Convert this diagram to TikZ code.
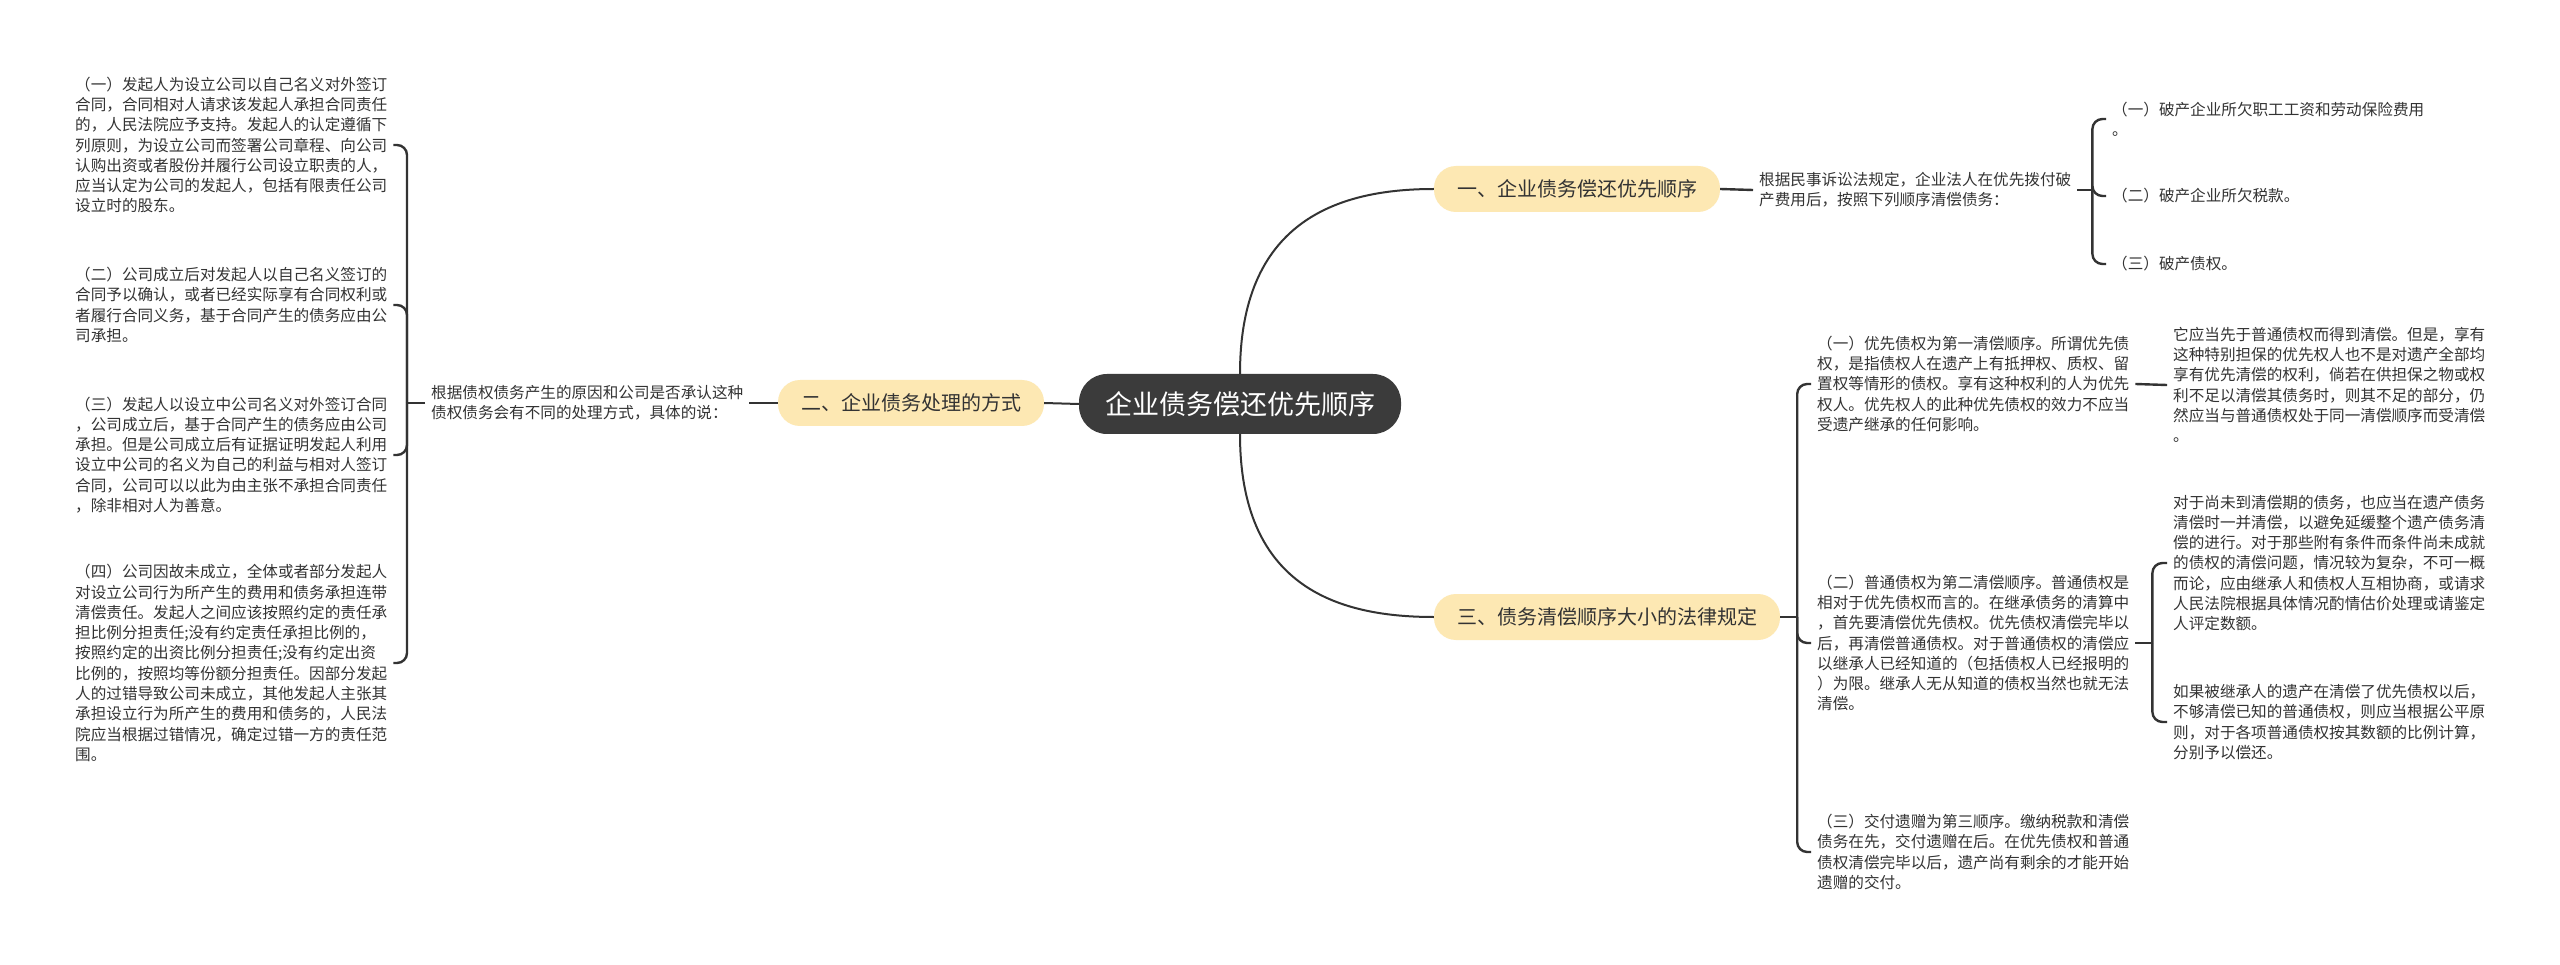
\documentclass[tikz,border=0pt]{standalone}
\usepackage{fontspec}
\setmainfont{Noto Sans CJK SC}
\definecolor{rootgray}{HTML}{3B3B3B}
\definecolor{branchfill}{HTML}{FDE8B3}
\definecolor{inkgray}{HTML}{333333}
\tikzset{
  root/.style={fill=rootgray, text=white, rounded corners=28pt, minimum height=60pt, inner xsep=26pt, font=\fontsize{27}{30}\selectfont},
  branch/.style={fill=branchfill, text=inkgray, rounded corners=22pt, minimum height=46pt, inner xsep=23pt, font=\fontsize{20}{24}\selectfont},
  leaf/.style={anchor=west, align=left, inner xsep=6pt, inner ysep=0pt, text=inkgray, font=\fontsize{15.6}{20.3}\selectfont},
  link/.style={draw=inkgray, line width=2.4pt},
  curve/.style={draw=inkgray, line width=2pt}
}
\begin{document}
\begin{tikzpicture}[x=1pt, y=-1pt]
    \fill[white] (0,0) rectangle (2560,965);
    \useasboundingbox (0,0) rectangle (2560,965);

    % Root and branches
    \node[root] (root) at (1240,404) {企业债务偿还优先顺序};
    \node[branch] (b1) at (1577,189) {一、企业债务偿还优先顺序};
    \node[branch] (b2) at (911,403) {二、企业债务处理的方式};
    \node[branch] (b3) at (1607,617) {三、债务清偿顺序大小的法律规定};

    \draw[curve] (root.north) .. controls +(0,-150) and +(-100,0) .. (b1.west);
    \draw[curve] (root.south) .. controls +(0,150) and +(-100,0) .. (b3.west);
    \draw[curve] (root.west) -- (b2.east);

    % Branch one
    \node[leaf] (t1) at (1753,190) {根据民事诉讼法规定，企业法人在优先拨付破\\产费用后，按照下列顺序清偿债务：};
    \node[leaf] (p1) at (2106,119) {（一）破产企业所欠职工工资和劳动保险费用\\。};
    \node[leaf] (p2) at (2106,196) {（二）破产企业所欠税款。};
    \node[leaf] (p3) at (2106,264) {（三）破产债权。};

    \draw[link] (b1.east) -- (t1.west);
    \coordinate (tbr) at ([xshift=15pt]t1.east);
    \draw[link] (t1.east) -- (tbr);
    \foreach \n in {p1,p2,p3} {
        \draw[link, rounded corners=10pt] (tbr) |- (\n.west);
    }

    % Branch two
    \node[leaf, anchor=west] (t2) at (425,403) {根据债权债务产生的原因和公司是否承认这种\\债权债务会有不同的处理方式，具体的说：};
    \node[leaf] (d1) at (69,145) {（一）发起人为设立公司以自己名义对外签订\\合同，合同相对人请求该发起人承担合同责任\\的，人民法院应予支持。发起人的认定遵循下\\列原则，为设立公司而签署公司章程、向公司\\认购出资或者股份并履行公司设立职责的人，\\应当认定为公司的发起人，包括有限责任公司\\设立时的股东。};
    \node[leaf] (d2) at (69,305) {（二）公司成立后对发起人以自己名义签订的\\合同予以确认，或者已经实际享有合同权利或\\者履行合同义务，基于合同产生的债务应由公\\司承担。};
    \node[leaf] (d3) at (69,455) {（三）发起人以设立中公司名义对外签订合同\\，公司成立后，基于合同产生的债务应由公司\\承担。但是公司成立后有证据证明发起人利用\\设立中公司的名义为自己的利益与相对人签订\\合同，公司可以以此为由主张不承担合同责任\\，除非相对人为善意。};
    \node[leaf] (d4) at (69,663) {（四）公司因故未成立，全体或者部分发起人\\对设立公司行为所产生的费用和债务承担连带\\清偿责任。发起人之间应该按照约定的责任承\\担比例分担责任;没有约定责任承担比例的，\\按照约定的出资比例分担责任;没有约定出资\\比例的，按照均等份额分担责任。因部分发起\\人的过错导致公司未成立，其他发起人主张其\\承担设立行为所产生的费用和债务的，人民法\\院应当根据过错情况，确定过错一方的责任范\\围。};

    \draw[link] (b2.west) -- (t2.east);
    \coordinate (lbr) at ([xshift=-18pt]t2.west);
    \draw[link] (t2.west) -- (lbr);
    \foreach \n in {d1,d2,d3,d4} {
        \draw[link, rounded corners=10pt] (lbr) |- (\n.east);
    }

    % Branch three
    \node[leaf] (q1) at (1811,384) {（一）优先债权为第一清偿顺序。所谓优先债\\权，是指债权人在遗产上有抵押权、质权、留\\置权等情形的债权。享有这种权利的人为优先\\权人。优先权人的此种优先债权的效力不应当\\受遗产继承的任何影响。};
    \node[leaf] (q2) at (1811,643) {（二）普通债权为第二清偿顺序。普通债权是\\相对于优先债权而言的。在继承债务的清算中\\，首先要清偿优先债权。优先债权清偿完毕以\\后，再清偿普通债权。对于普通债权的清偿应\\以继承人已经知道的（包括债权人已经报明的\\）为限。继承人无从知道的债权当然也就无法\\清偿。};
    \node[leaf] (q3) at (1811,852) {（三）交付遗赠为第三顺序。缴纳税款和清偿\\债务在先，交付遗赠在后。在优先债权和普通\\债权清偿完毕以后，遗产尚有剩余的才能开始\\遗赠的交付。};
    \node[leaf] (q1x) at (2167,385) {它应当先于普通债权而得到清偿。但是，享有\\这种特别担保的优先权人也不是对遗产全部均\\享有优先清偿的权利，倘若在供担保之物或权\\利不足以清偿其债务时，则其不足的部分，仍\\然应当与普通债权处于同一清偿顺序而受清偿\\。};
    \node[leaf] (q2a) at (2167,563) {对于尚未到清偿期的债务，也应当在遗产债务\\清偿时一并清偿，以避免延缓整个遗产债务清\\偿的进行。对于那些附有条件而条件尚未成就\\的债权的清偿问题，情况较为复杂，不可一概\\而论，应由继承人和债权人互相协商，或请求\\人民法院根据具体情况酌情估价处理或请鉴定\\人评定数额。};
    \node[leaf] (q2b) at (2167,722) {如果被继承人的遗产在清偿了优先债权以后，\\不够清偿已知的普通债权，则应当根据公平原\\则，对于各项普通债权按其数额的比例计算，\\分别予以偿还。};

    \coordinate (rbr) at ([xshift=17pt]b3.east);
    \draw[link] (b3.east) -- (rbr);
    \foreach \n in {q1,q2,q3} {
        \draw[link, rounded corners=10pt] (rbr) |- (\n.west);
    }
    \draw[link] (q1.east) -- (q1x.west);
    \coordinate (qbr) at ([xshift=17pt]q2.east);
    \draw[link] (q2.east) -- (qbr);
    \foreach \n in {q2a,q2b} {
        \draw[link, rounded corners=10pt] (qbr) |- (\n.west);
    }
\end{tikzpicture}
\end{document}
